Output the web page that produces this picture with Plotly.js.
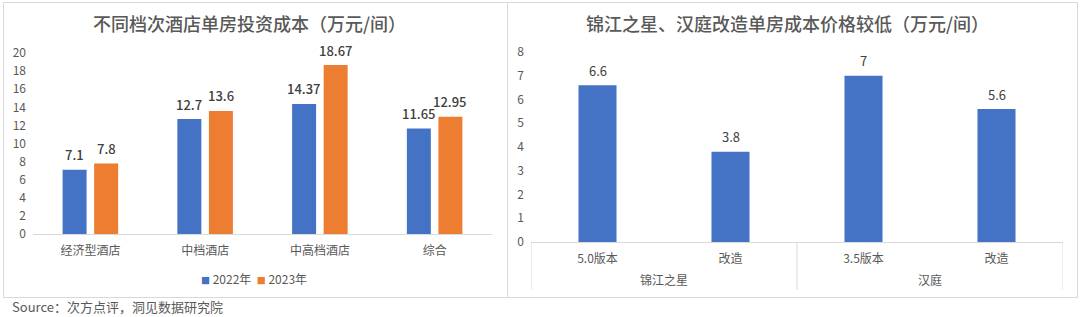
<!DOCTYPE html>
<html>
<head>
<meta charset="utf-8">
<script src="https://cdn.plot.ly/plotly-3.0.1.min.js"></script>
<style>
html,body{margin:0;padding:0;background:#fff;}
#chart{width:1080px;height:317px;}
</style>
</head>
<body>
<div id="chart"></div>
<script>
// ---- Left chart data ----
const categories1 = ['经济型酒店', '中档酒店', '中高档酒店', '综合'];
const seriesNames1 = ['2022年', '2023年'];
const values2022 = [7.1, 12.7, 14.37, 11.65];
const values2023 = [7.8, 13.6, 18.67, 12.95];
const title1 = '不同档次酒店单房投资成本（万元/间）';

// ---- Right chart data ----
const groups2 = ['锦江之星', '锦江之星', '汉庭', '汉庭'];
const subs2 = ['5.0版本', '改造', '3.5版本', '改造'];
const values2 = [6.6, 3.8, 7, 5.6];
const title2 = '锦江之星、汉庭改造单房成本价格较低（万元/间）';

const sourceText = 'Source：次方点评，洞见数据研究院';

// ---- styles ----
const FONT = '"Noto Sans CJK SC", "Noto Sans", sans-serif';
const BLUE = '#4472C4', ORANGE = '#ED7D31';
const TXT = '#595959', LBL = '#404040', LINE = '#D9D9D9';
const W = 1080, H = 317;
const px = v => v / W;
const py = v => (H - v) / H;

const idx2 = values2.map((_, i) => i);

const traces = [
  {type: 'bar', name: seriesNames1[0], x: categories1, y: values2022, marker: {color: BLUE},
   xaxis: 'x', yaxis: 'y', showlegend: false, hoverinfo: 'none'},
  {type: 'bar', name: seriesNames1[1], x: categories1, y: values2023, marker: {color: ORANGE},
   xaxis: 'x', yaxis: 'y', showlegend: false, hoverinfo: 'none'},
  {type: 'bar', x: idx2, y: values2, marker: {color: BLUE}, width: 0.286,
   xaxis: 'x2', yaxis: 'y2', showlegend: false, hoverinfo: 'none'}
];

const annotations = [];
// data labels, left chart
const shift1 = 15.75;
[values2022, values2023].forEach((vals, s) => {
  vals.forEach((v, i) => {
    annotations.push({xref: 'x', yref: 'y', x: categories1[i], y: v, text: String(v),
      showarrow: false, yanchor: 'middle', yshift: 15, xshift: s === 0 ? -shift1 : shift1,
      font: {family: FONT, size: 13, color: LBL, weight: 500}});
  });
});
// data labels, right chart
values2.forEach((v, i) => {
  annotations.push({xref: 'x2', yref: 'y2', x: idx2[i], y: v, text: String(v),
    showarrow: false, yanchor: 'middle', yshift: 15,
    font: {family: FONT, size: 13, color: LBL}});
});
// group labels + dividers, right chart
const shapes = [];
const groupList = [];
groups2.forEach((g, i) => {
  if (i === 0 || g !== groups2[i - 1]) groupList.push({name: g, start: i, end: i});
  else groupList[groupList.length - 1].end = i;
});
const divLine = {color: LINE, width: 1};
groupList.forEach((g, k) => {
  annotations.push({xref: 'x2', yref: 'paper', x: (g.start + g.end) / 2, y: py(279), text: g.name,
    showarrow: false, xanchor: 'center', yanchor: 'middle', font: {family: FONT, size: 12, color: TXT}});
  if (k === 0) shapes.push({type: 'line', xref: 'x2', yref: 'paper', x0: g.start - 0.5, x1: g.start - 0.5,
    y0: py(290), y1: py(242), line: divLine});
  shapes.push({type: 'line', xref: 'x2', yref: 'paper', x0: g.end + 0.5, x1: g.end + 0.5,
    y0: py(290), y1: py(242), line: divLine});
});
// titles
annotations.push({xref: 'paper', yref: 'paper', x: px(249), y: py(23.5), text: title1,
  showarrow: false, xanchor: 'center', yanchor: 'middle', font: {family: FONT, size: 18, color: TXT, weight: 500}});
annotations.push({xref: 'paper', yref: 'paper', x: px(787), y: py(23.5), text: title2,
  showarrow: false, xanchor: 'center', yanchor: 'middle', font: {family: FONT, size: 18, color: TXT, weight: 500}});
// legend (left chart)
const sq = c => '<span style="color:' + c + ';font-size:9px">■</span>';
annotations.push({xref: 'paper', yref: 'paper', x: px(254.5), y: py(278),
  text: sq(BLUE) + ' ' + seriesNames1[0] + '  ' + sq(ORANGE) + ' ' + seriesNames1[1],
  showarrow: false, xanchor: 'center', yanchor: 'middle', font: {family: FONT, size: 12, color: TXT}});
// source
annotations.push({xref: 'paper', yref: 'paper', x: px(11), y: 0, text: sourceText, borderpad: 0,
  showarrow: false, xanchor: 'left', yanchor: 'bottom', font: {family: FONT, size: 13, color: TXT}});

// panel borders
shapes.push({type: 'rect', xref: 'paper', yref: 'paper', x0: px(3.5), x1: px(507.5), y0: py(297.5), y1: py(2.5),
  line: {color: LINE, width: 1}, fillcolor: 'rgba(0,0,0,0)', layer: 'below'});
shapes.push({type: 'rect', xref: 'paper', yref: 'paper', x0: px(507.5), x1: px(1077.5), y0: py(297.5), y1: py(2.5),
  line: {color: LINE, width: 1}, fillcolor: 'rgba(0,0,0,0)', layer: 'below'});

const layout = {
  width: W, height: H,
  margin: {l: 0, r: 0, t: 0, b: 0, pad: 0},
  paper_bgcolor: '#fff', plot_bgcolor: 'rgba(0,0,0,0)',
  font: {family: FONT, size: 12, color: TXT},
  barmode: 'group', bargap: 0.45, bargroupgap: 0.24,
  showlegend: false,
  xaxis: {domain: [px(33), px(492)], anchor: 'y', type: 'category',
    showline: true, linecolor: LINE, linewidth: 1, showgrid: false, zeroline: false,
    ticks: '', ticklabelstandoff: 6, tickfont: {family: FONT, size: 12, color: TXT}, fixedrange: true},
  yaxis: {domain: [py(234), py(53)], anchor: 'x', range: [0, 20], dtick: 2, tick0: 0,
    showline: false, showgrid: false, zeroline: false, ticks: '', ticklabelstandoff: 6,
    tickfont: {family: FONT, size: 12, color: TXT}, fixedrange: true},
  xaxis2: {domain: [px(531), px(1063)], anchor: 'y2', type: 'linear', range: [-0.5, values2.length - 0.5],
    tickmode: 'array', tickvals: idx2, ticktext: subs2,
    showline: true, linecolor: LINE, linewidth: 1, showgrid: false, zeroline: false,
    ticks: '', ticklabelstandoff: 6, tickfont: {family: FONT, size: 12, color: TXT}, fixedrange: true},
  yaxis2: {domain: [py(242), py(52)], anchor: 'x2', range: [0, 8], dtick: 1, tick0: 0,
    showline: false, showgrid: false, zeroline: false, ticks: '', ticklabelstandoff: 6,
    tickfont: {family: FONT, size: 12, color: TXT}, fixedrange: true},
  annotations: annotations,
  shapes: shapes
};

Plotly.newPlot('chart', traces, layout, {displayModeBar: false, staticPlot: true});
</script>
</body>
</html>
